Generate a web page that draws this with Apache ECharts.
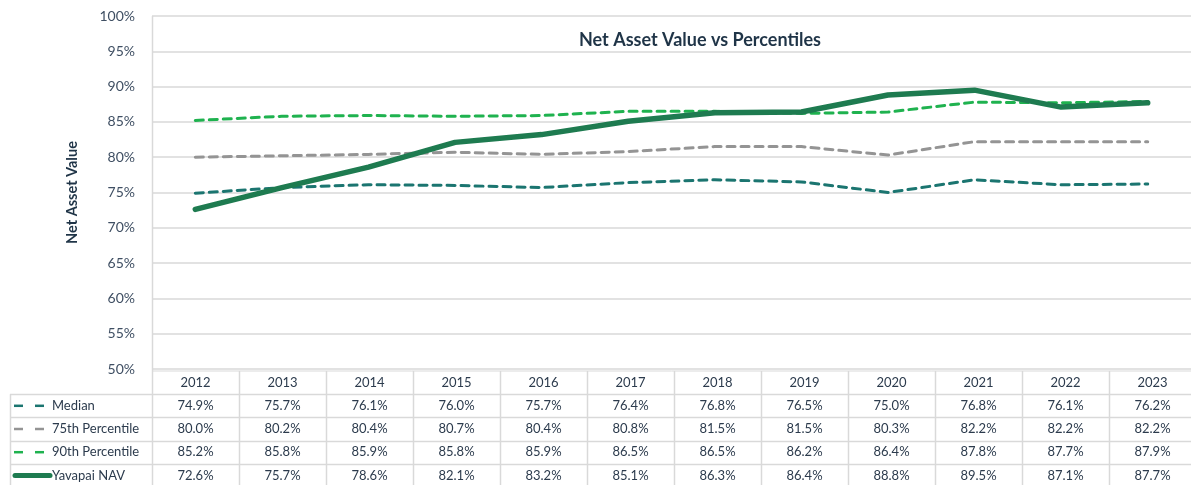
<!DOCTYPE html>
<html>
<head>
<meta charset="utf-8">
<script src="https://cdn.jsdelivr.net/npm/echarts@6/dist/echarts.min.js"></script>
<style>
  html, body { margin: 0; padding: 0; background: #fff; }
  #chart { width: 1191px; height: 485px; }
</style>
</head>
<body>
<div id="chart"></div>
<script>
const years = ['2012', '2013', '2014', '2015', '2016', '2017', '2018', '2019', '2020', '2021', '2022', '2023']
const median = [74.9, 75.7, 76.1, 76.0, 75.7, 76.4, 76.8, 76.5, 75.0, 76.8, 76.1, 76.2]
const p75 = [80.0, 80.2, 80.4, 80.7, 80.4, 80.8, 81.5, 81.5, 80.3, 82.2, 82.2, 82.2]
const p90 = [85.2, 85.8, 85.9, 85.8, 85.9, 86.5, 86.5, 86.2, 86.4, 87.8, 87.7, 87.9]
const nav = [72.6, 75.7, 78.6, 82.1, 83.2, 85.1, 86.3, 86.4, 88.8, 89.5, 87.1, 87.7]

const font = 'Lato, "Open Sans", sans-serif'
const textColor = '#2c3b4d'
const lineColor = '#d9d9d9'

const seriesDefs = [
  { name: 'Median', data: median, color: '#1b7570', width: 3, type: [8, 6] },
  { name: '75th Percentile', data: p75, color: '#949494', width: 3, type: [8, 6] },
  { name: '90th Percentile', data: p90, color: '#1fb24f', width: 3, type: [8, 6] },
  { name: 'Yavapai NAV', data: nav, color: '#1e7b50', width: 5.5, type: 'solid' },
]

const gridLeft = 152
const gridTop = 16
const gridHeight = 353
const colW = 87
const rowTop = 371
const rowH = 23.2

const chart = echarts.init(document.getElementById('chart'))

// data table drawn under the plot
const graphics = []
const tableBottom = 490
graphics.push({ type: 'line', shape: { x1: gridLeft, y1: rowTop, x2: 1191, y2: rowTop }, style: { stroke: lineColor, lineWidth: 1 } })
for (let r = 0; r <= seriesDefs.length; r++) {
  const y = Math.round(rowTop + rowH * (r + 1)) + 0.5
  graphics.push({ type: 'line', shape: { x1: 10, y1: y, x2: 1191, y2: y }, style: { stroke: lineColor, lineWidth: 1.5 } })
}
graphics.push({ type: 'line', shape: { x1: 10.5, y1: rowTop + rowH, x2: 10.5, y2: tableBottom }, style: { stroke: lineColor, lineWidth: 1.5 } })
for (let c = 0; c <= years.length; c++) {
  const x = gridLeft + colW * c + 0.5
  graphics.push({ type: 'line', shape: { x1: x, y1: c === 0 ? gridTop : rowTop, x2: x, y2: tableBottom }, style: { stroke: lineColor, lineWidth: 1.5 } })
}
years.forEach((yr, c) => {
  graphics.push({
    type: 'text',
    x: gridLeft + colW * c + colW / 2,
    y: rowTop + rowH / 2,
    style: { text: yr, font: '13px ' + font, fill: textColor, align: 'center', verticalAlign: 'middle' },
  })
})
seriesDefs.forEach((s, r) => {
  const cy = rowTop + rowH * (r + 1) + rowH / 2
  if (s.type === 'solid') {
    graphics.push({ type: 'line', shape: { x1: 15, y1: cy, x2: 50, y2: cy }, style: { stroke: s.color, lineWidth: 5, lineCap: 'round' } })
  } else {
    graphics.push({ type: 'line', shape: { x1: 14, y1: cy, x2: 23, y2: cy }, style: { stroke: s.color, lineWidth: 2.5 } })
    graphics.push({ type: 'line', shape: { x1: 35, y1: cy, x2: 44, y2: cy }, style: { stroke: s.color, lineWidth: 2.5 } })
  }
  graphics.push({
    type: 'text', x: 52, y: cy,
    style: { text: s.name, font: '13px ' + font, fill: textColor, align: 'left', verticalAlign: 'middle' },
  })
  s.data.forEach((v, c) => {
    graphics.push({
      type: 'text',
      x: gridLeft + colW * c + colW / 2,
      y: cy,
      style: { text: v.toFixed(1) + '%', font: '13px ' + font, fill: textColor, align: 'center', verticalAlign: 'middle' },
    })
  })
})

chart.setOption({
  animation: false,
  title: {
    text: 'Net Asset Value vs Percentiles',
    left: 695,
    top: 26,
    textAlign: 'center',
    textStyle: { fontFamily: font, fontSize: 18, fontWeight: 'bold', color: '#1f3447' },
  },
  grid: { left: gridLeft, top: gridTop, width: colW * years.length, height: gridHeight },
  xAxis: {
    type: 'category',
    data: years,
    boundaryGap: true,
    axisLine: { show: false },
    axisTick: { show: false },
    axisLabel: { show: false },
  },
  yAxis: {
    type: 'value',
    min: 50,
    max: 100,
    interval: 5,
    name: 'Net Asset Value',
    nameLocation: 'middle',
    nameGap: 72,
    nameRotate: 90,
    nameTextStyle: { fontFamily: font, fontSize: 14.5, fontWeight: 'bold', color: '#1f3447' },
    axisLine: { show: false },
    axisTick: { show: false },
    axisLabel: { formatter: '{value}%', margin: 17, fontFamily: font, fontSize: 14, color: '#3f4f63' },
    splitLine: { lineStyle: { color: lineColor, width: 1.5 } },
  },
  series: seriesDefs.map((s, i) => ({
    name: s.name,
    type: 'line',
    data: s.data,
    symbol: 'none',
    z: i === 3 ? 5 : 3,
    lineStyle: { color: s.color, width: s.width, type: s.type, cap: 'round' },
  })),
  graphic: graphics,
})
</script>
</body>
</html>
